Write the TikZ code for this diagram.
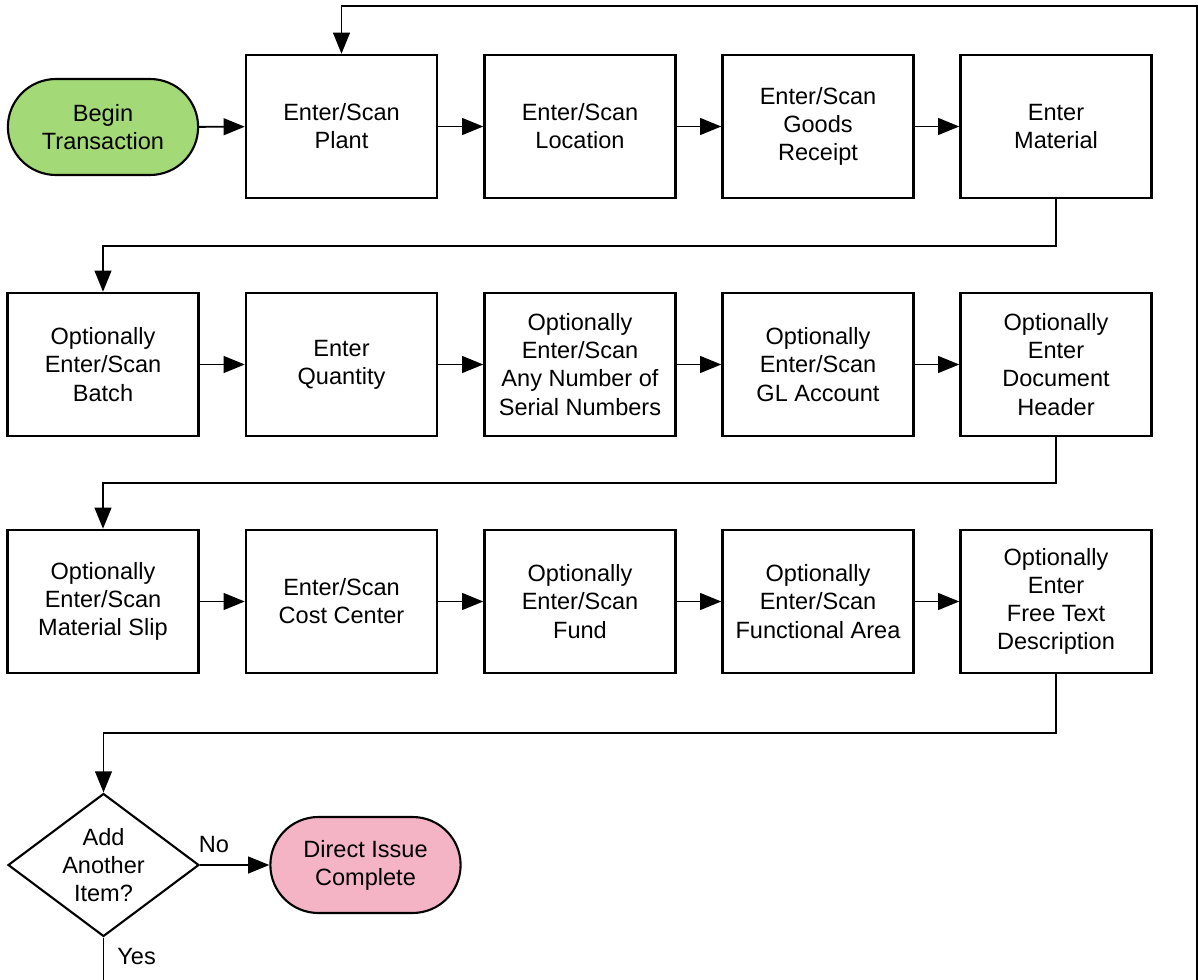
\documentclass[tikz,border=0pt]{standalone}
\usepackage{fontspec}
\setmainfont{Liberation Sans}
\usetikzlibrary{shapes.misc,shapes.geometric,arrows.meta}

\begin{document}
\begin{tikzpicture}[x=0.02cm,y=-0.02cm,
	font=\fontsize{13.4}{16}\selectfont,
	stepbox/.style={shape=rectangle,draw,line width=1.4pt,minimum width=3.82cm,minimum height=2.86cm,align=center,inner sep=2pt},
	endbox/.style={shape=rounded rectangle,draw,line width=1.2pt,minimum width=4.04cm,minimum height=1.92cm,align=center},
	askbox/.style={shape=diamond,draw,line width=1.2pt,shape aspect=1.33,minimum width=3.82cm,minimum height=2.86cm,inner sep=0pt,align=center},
	link/.style={line width=1.1pt,-{Triangle[length=12pt,width=9.5pt]}},
	line/.style={line width=1.1pt}]
	\useasboundingbox (0,0) rectangle (1198,980);
	% row 1
	\node[endbox,fill={rgb,255:red,163;green,217;blue,119}](begin) at (103,127) {Begin\\Transaction};
	\node[stepbox](plant) at (341.5,126.5) {Enter/Scan\\Plant};
	\node[stepbox](loc) at (580,126.5) {Enter/Scan\\Location};
	\node[stepbox](gr) at (818,126.5) {Enter/Scan\\Goods\\Receipt};
	\node[stepbox](mat) at (1056,126.5) {Enter\\Material};
	% row 2
	\node[stepbox](batch) at (103,364.5) {Optionally\\Enter/Scan\\Batch};
	\node[stepbox](qty) at (341.5,364.5) {Enter\\Quantity};
	\node[stepbox](serial) at (580,364.5) {Optionally\\Enter/Scan\\Any Number of\\Serial Numbers};
	\node[stepbox](gl) at (818,364.5) {Optionally\\Enter/Scan\\GL Account};
	\node[stepbox](hdr) at (1056,364.5) {Optionally\\Enter\\Document\\Header};
	% row 3
	\node[stepbox](slip) at (103,601.5) {Optionally\\Enter/Scan\\Material Slip};
	\node[stepbox](cc) at (341.5,601.5) {Enter/Scan\\Cost Center};
	\node[stepbox](fund) at (580,601.5) {Optionally\\Enter/Scan\\Fund};
	\node[stepbox](area) at (818,601.5) {Optionally\\Enter/Scan\\Functional Area};
	\node[stepbox](desc) at (1056,601.5) {Optionally\\Enter\\Free Text\\Description};
	% end
	\node[askbox](ask) at (103.5,865) {Add\\Another\\Item?};
	\node[endbox,fill={rgb,255:red,244;green,180;blue,198}](done) at (365.5,865) {Direct Issue\\Complete};
	\coordinate (turn) at (1197,1000);
	\coordinate (top) at (1197,6);

	\draw[link] (begin) -- (plant);
	\draw[link] (plant) -- (loc);
	\draw[link] (loc) -- (gr);
	\draw[link] (gr) -- (mat);
	\draw[link] (mat.south) -- (1056,246) -| (batch.north);
	\draw[link] (batch) -- (qty);
	\draw[link] (qty) -- (serial);
	\draw[link] (serial) -- (gl);
	\draw[link] (gl) -- (hdr);
	\draw[link] (hdr.south) -- (1056,483) -| (slip.north);
	\draw[link] (slip) -- (cc);
	\draw[link] (cc) -- (fund);
	\draw[link] (fund) -- (area);
	\draw[link] (area) -- (desc);
	\draw[link] (desc.south) -- (1056,733) -| (ask.north);
	\draw[link] (ask) -- node[pos=0.2,above=3pt]{No} (done);
	\draw[link] (ask.south) -- node[pos=0.3,right=4pt]{Yes} (ask.south |- turn) -- (turn) -- (top) -| (plant.north);
\end{tikzpicture}
\end{document}
